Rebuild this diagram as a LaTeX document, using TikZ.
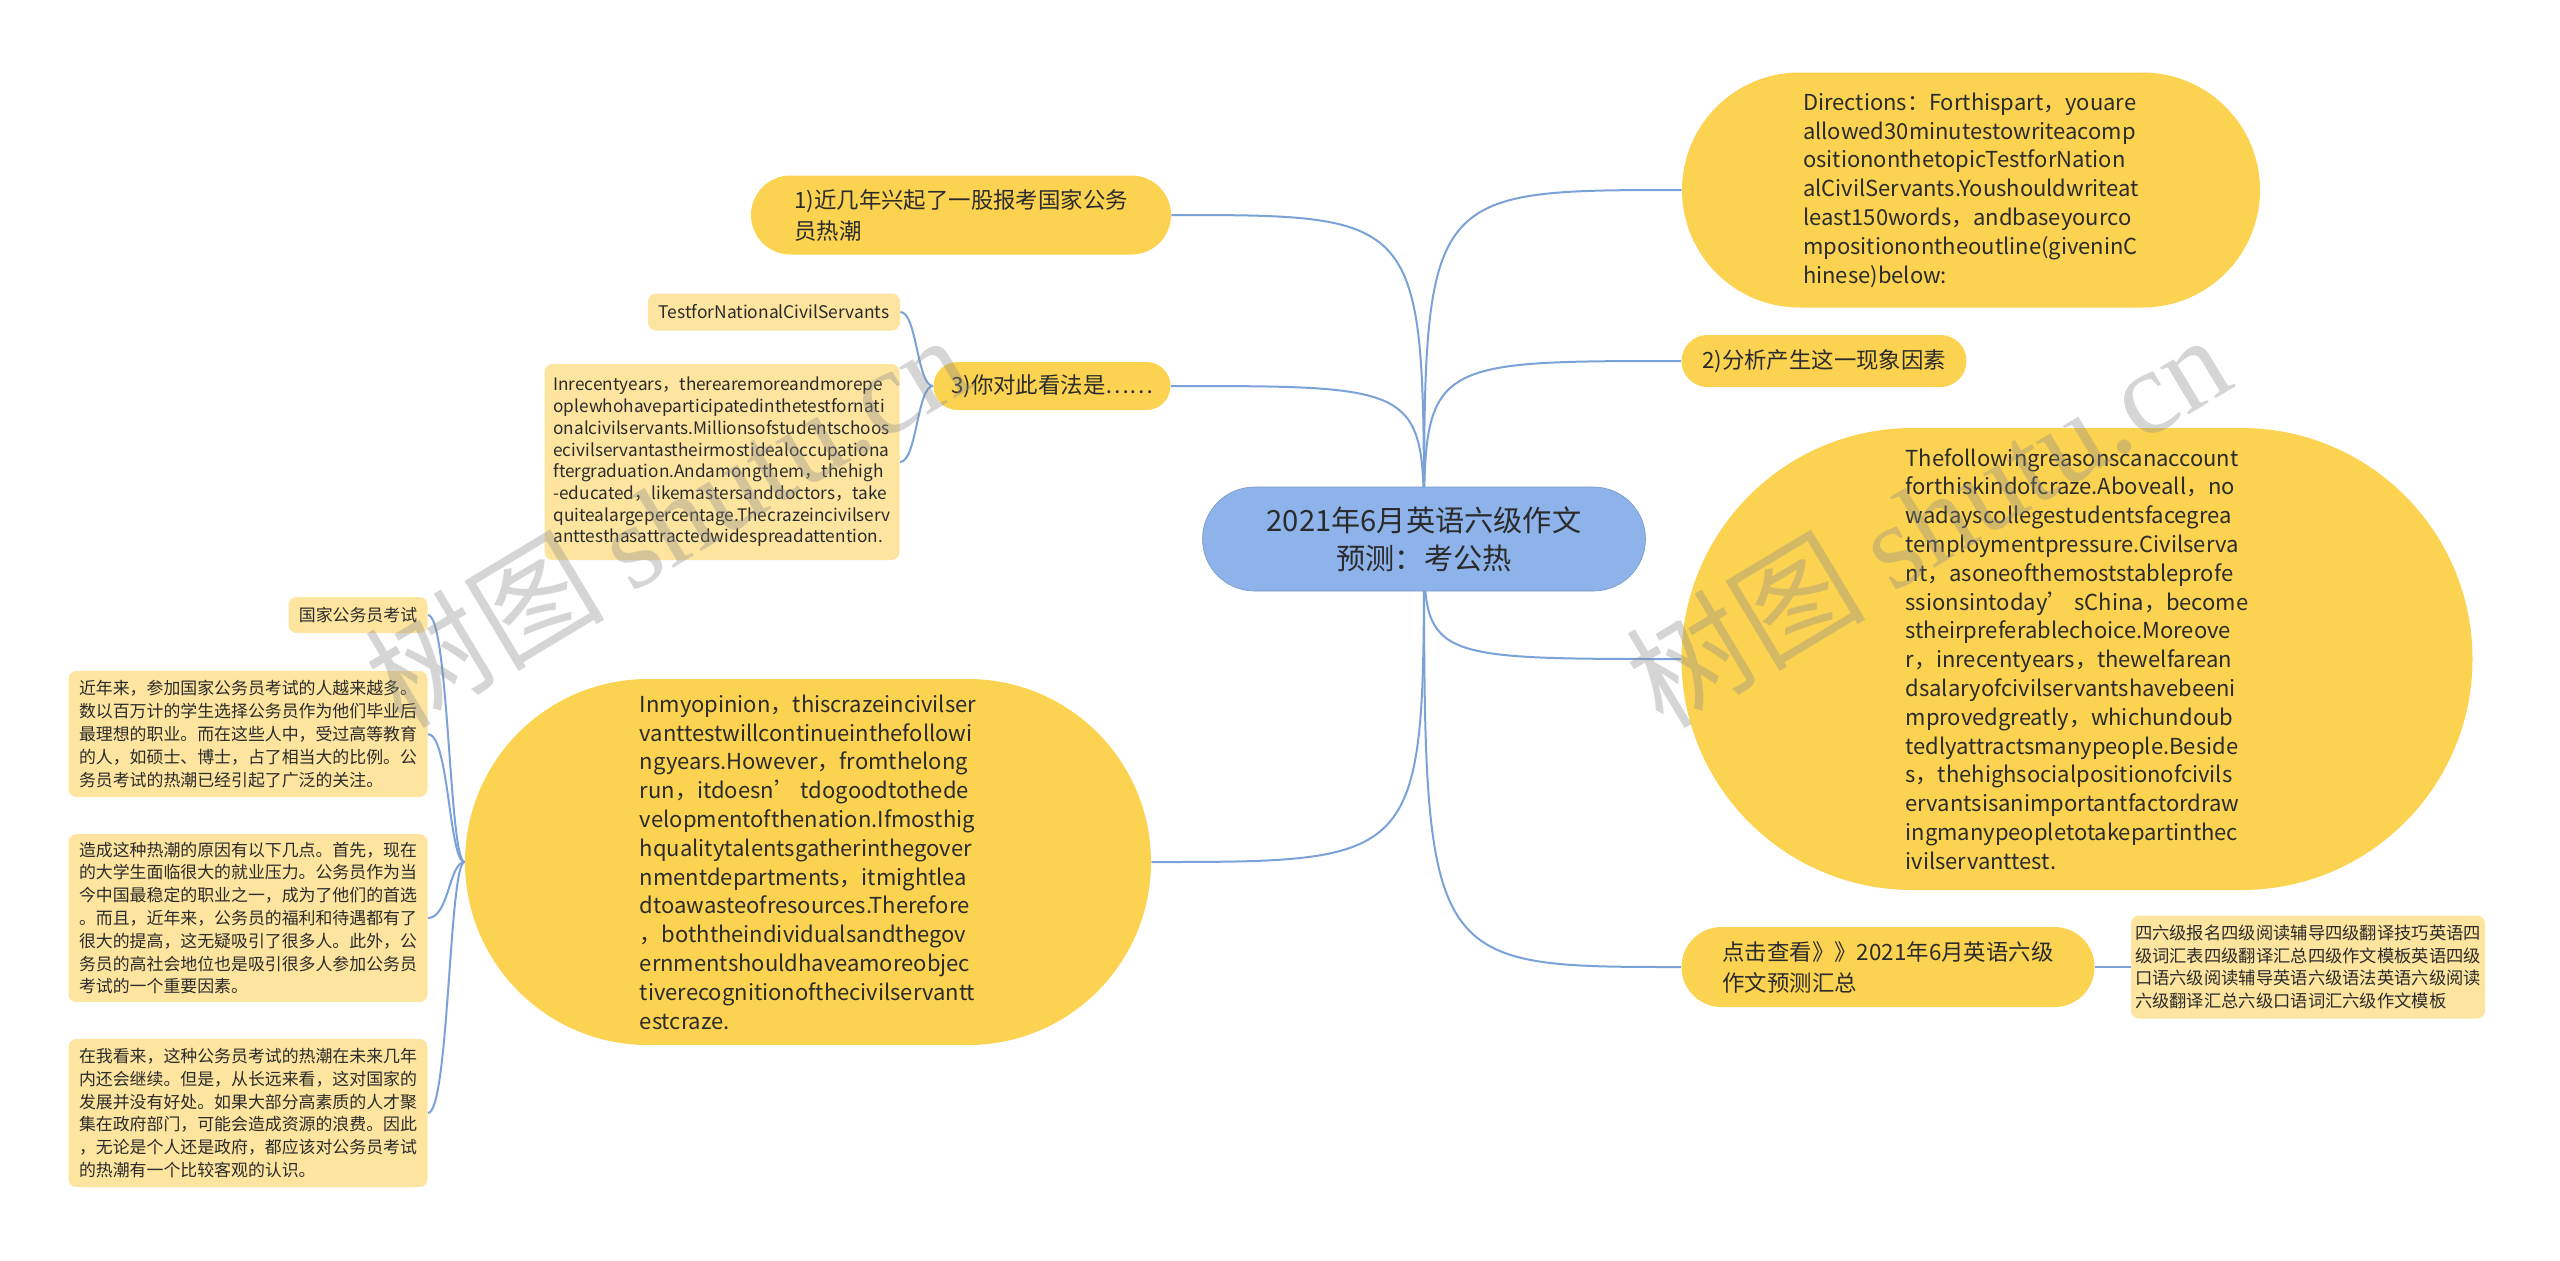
\documentclass[tikz,border=0pt]{standalone}
\usepackage{fontspec}
\setmainfont{Noto Sans CJK SC}
\newfontfamily\wmserif{Liberation Serif}
\usetikzlibrary{backgrounds}
\definecolor{mainY}{HTML}{FCD350}
\definecolor{leafY}{HTML}{FDE5A0}
\definecolor{rootB}{HTML}{8DB3EA}
\definecolor{lineB}{HTML}{7BA2D8}
\definecolor{txt}{HTML}{2B2B2B}
\definecolor{wm}{HTML}{8C8C8C}
\begin{document}
\begin{tikzpicture}[x=0.5pt,y=-0.5pt,
  base/.style={inner sep=0pt, align=left, text=txt},
  rootnode/.style={base, fill=rootB, draw=rootB!85!black, line width=0.3pt, align=center, font=\fontsize{14.6}{19}\selectfont},
  capnode/.style={base, fill=mainY},
  midfont/.style={font=\fontsize{11.2}{15.5}\selectfont},
  bigfont/.style={font=\fontsize{11.0}{14.4}\selectfont},
  leafnode/.style={base, fill=leafY, rounded corners=4pt},
  latleaf/.style={font=\fontsize{8.6}{10.85}\selectfont},
  cnleaf/.style={font=\fontsize{8.45}{11.4}\selectfont},
  conn/.style={draw=lineB, line width=1pt},
  wmark/.style={rotate=31, text=wm, text opacity=0.36, inner sep=0pt, font=\fontsize{60}{60}\selectfont}
]
\useasboundingbox (0,0) rectangle (2560,1260);

% root
\node[rootnode, minimum width=221.5pt, minimum height=52pt, rounded corners=26pt] (root) at (1424,539)
  {2021年6月英语六级作文\\预测：考公热};

% right side
\node[capnode, bigfont, minimum width=289pt, minimum height=117.5pt, rounded corners=58.75pt] (dir) at (1971,190)
  {Directions：Forthispart，youare\\allowed30minutestowriteacomp\\ositiononthetopicTestforNation\\alCivilServants.Youshouldwriteat\\least150words，andbaseyourco\\mpositionontheoutline(giveninC\\hinese)below:};
\node[capnode, midfont, minimum width=142.5pt, minimum height=26pt, rounded corners=13pt] (two) at (1824,361)
  {2)分析产生这一现象因素};
\node[capnode, bigfont, minimum width=395.5pt, minimum height=231pt, rounded corners=115.5pt] (foll) at (2077,659)
  {Thefollowingreasonscanaccount\\forthiskindofcraze.Aboveall，no\\wadayscollegestudentsfacegrea\\temploymentpressure.Civilserva\\nt，asoneofthemoststableprofe\\ssionsintoday’ sChina，become\\stheirpreferablechoice.Moreove\\r，inrecentyears，thewelfarean\\dsalaryofcivilservantshavebeeni\\mprovedgreatly，whichundoub\\tedlyattractsmanypeople.Beside\\s，thehighsocialpositionofcivils\\ervantsisanimportantfactordraw\\ingmanypeopletotakepartinthec\\ivilservanttest.};
\node[capnode, midfont, minimum width=206.5pt, minimum height=40pt, rounded corners=20pt] (click) at (1888,967)
  {点击查看》》2021年6月英语六级\\作文预测汇总};
\node[leafnode, font=\fontsize{8.65}{11.3}\selectfont, minimum width=177pt, minimum height=51.5pt] (rleaf) at (2308,967)
  {四六级报名四级阅读辅导四级翻译技巧英语四\\级词汇表四级翻译汇总四级作文模板英语四级\\口语六级阅读辅导英语六级语法英语六级阅读\\六级翻译汇总六级口语词汇六级作文模板};

% left side
\node[capnode, midfont, minimum width=210pt, minimum height=39.5pt, rounded corners=19.75pt] (one) at (961,215)
  {1)近几年兴起了一股报考国家公务\\员热潮};
\node[capnode, midfont, minimum width=118.5pt, minimum height=24pt, rounded corners=12pt] (three) at (1052,386)
  {3)你对此看法是……};
\node[leafnode, font=\fontsize{8.7}{10.85}\selectfont, minimum width=126pt, minimum height=18.5pt] (test) at (774,312)
  {TestforNationalCivilServants};
\node[leafnode, latleaf, minimum width=177.5pt, minimum height=98pt] (inrec) at (722,462)
  {Inrecentyears，therearemoreandmorepe\\oplewhohaveparticipatedinthetestfornati\\onalcivilservants.Millionsofstudentschoos\\ecivilservantastheirmostidealoccupationa\\ftergraduation.Andamongthem，thehigh\\-educated，likemastersanddoctors，take\\quitealargepercentage.Thecrazeincivilserv\\anttesthasattractedwidespreadattention.};
\node[capnode, bigfont, minimum width=343pt, minimum height=183pt, rounded corners=91.5pt] (opin) at (808,862)
  {Inmyopinion，thiscrazeincivilser\\vanttestwillcontinueinthefollowi\\ngyears.However，fromthelong\\run，itdoesn’ tdogoodtothede\\velopmentofthenation.Ifmosthig\\hqualitytalentsgatherinthegover\\nmentdepartments，itmightlea\\dtoawasteofresources.Therefore\\，boththeindividualsandthegov\\ernmentshouldhaveamoreobjec\\tiverecognitionofthecivilservantt\\estcraze.};
\node[leafnode, cnleaf, minimum width=69.5pt, minimum height=18pt] (gj) at (358,615)
  {国家公务员考试};
\node[leafnode, cnleaf, minimum width=179.5pt, minimum height=63pt] (p1) at (248,734)
  {近年来，参加国家公务员考试的人越来越多。\\数以百万计的学生选择公务员作为他们毕业后\\最理想的职业。而在这些人中，受过高等教育\\的人，如硕士、博士，占了相当大的比例。公\\务员考试的热潮已经引起了广泛的关注。};
\node[leafnode, cnleaf, minimum width=179.5pt, minimum height=84pt] (p2) at (248,918)
  {造成这种热潮的原因有以下几点。首先，现在\\的大学生面临很大的就业压力。公务员作为当\\今中国最稳定的职业之一，成为了他们的首选\\。而且，近年来，公务员的福利和待遇都有了\\很大的提高，这无疑吸引了很多人。此外，公\\务员的高社会地位也是吸引很多人参加公务员\\考试的一个重要因素。};
\node[leafnode, cnleaf, minimum width=179.5pt, minimum height=74pt] (p3) at (248,1113)
  {在我看来，这种公务员考试的热潮在未来几年\\内还会继续。但是，从长远来看，这对国家的\\发展并没有好处。如果大部分高素质的人才聚\\集在政府部门，可能会造成资源的浪费。因此\\，无论是个人还是政府，都应该对公务员考试\\的热潮有一个比较客观的认识。};

\coordinate (s3) at (917,386);
\coordinate (s4) at (449,862);

\begin{scope}[on background layer]
\fill[white] (0,0) rectangle (2560,1260);
\draw[conn] (root.center) .. controls (root.center |- dir.west) .. (dir.west);
\draw[conn] (root.center) .. controls (root.center |- two.west) .. (two.west);
\draw[conn] (root.center) .. controls (root.center |- foll.west) .. (foll.west);
\draw[conn] (root.center) .. controls (root.center |- click.west) .. (click.west);
\draw[conn] (root.center) .. controls (root.center |- one.east) .. (one.east);
\draw[conn] (root.center) .. controls (root.center |- three.east) .. (three.east);
\draw[conn] (root.center) .. controls (root.center |- opin.east) .. (opin.east);
\draw[conn] (click.east) -- (rleaf.west);
\draw[conn] (three.west) .. controls (three.west -| s3) and (test.east -| s3) .. (test.east);
\draw[conn] (three.west) .. controls (three.west -| s3) and (inrec.east -| s3) .. (inrec.east);
\draw[conn] (opin.west) .. controls (opin.west -| s4) and (gj.east -| s4) .. (gj.east);
\draw[conn] (opin.west) .. controls (opin.west -| s4) and (p1.east -| s4) .. (p1.east);
\draw[conn] (opin.west) .. controls (opin.west -| s4) and (p2.east -| s4) .. (p2.east);
\draw[conn] (opin.west) .. controls (opin.west -| s4) and (p3.east -| s4) .. (p3.east);
\end{scope}

% watermarks
\node[wmark] (wm1) at (666,519) {树图 {\wmserif shutu.cn}};
\node[wmark] (wm2) at (1927,519) {树图 {\wmserif shutu.cn}};
\end{tikzpicture}
\end{document}
